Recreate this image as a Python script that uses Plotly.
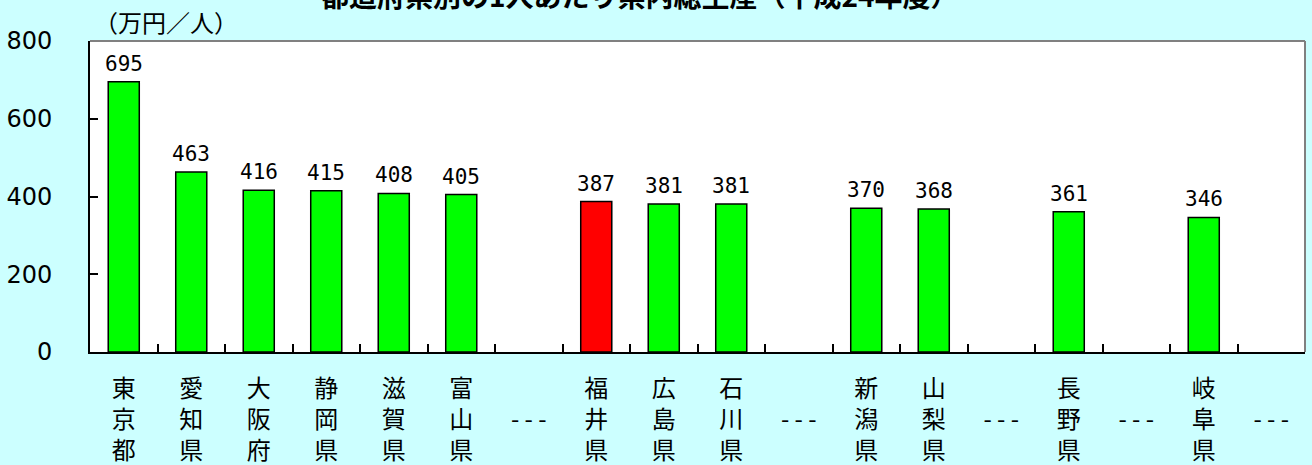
import plotly.graph_objects as go

categories = ["東京都", "愛知県", "大阪府", "静岡県", "滋賀県", "富山県", "---",
              "福井県", "広島県", "石川県", "---", "新潟県", "山梨県", "---",
              "長野県", "---", "岐阜県", "---"]
values = [695, 463, 416, 415, 408, 405, None, 387, 381, 381, None, 370, 368, None,
          361, None, 346, None]
highlight = "福井県"
title_text = "都道府県別の1人あたり県内総生産（平成24年度）"
unit_text = "（万円／人）"
y_ticks = [0, 200, 400, 600, 800]

xs = list(range(len(categories)))
colors = ["#FF0000" if c == highlight else "#00FF00" for c in categories]
ticktext = []
for c in categories:
    if c == "---":
        ticktext.append(" <br>- - -<br> ")
    else:
        ticktext.append("<br>".join(list(c)))

fig = go.Figure()
fig.add_trace(go.Bar(
    x=xs, y=values, width=0.46,
    marker=dict(color=colors, line=dict(color="black", width=1.5)),
    hoverinfo="x+y",
))

annotations = [
    dict(text="<b>" + title_text + "</b>", xref="paper", yref="paper",
         x=(640 - 90) / (1312 - 97), y=1, xanchor="center", yanchor="middle",
         yshift=46, showarrow=False,
         font=dict(family="Noto Sans CJK JP", size=28, color="black")),
    dict(text=unit_text, xref="paper", yref="paper", x=0, y=1,
         xanchor="left", yanchor="middle", xshift=2, yshift=20, showarrow=False,
         font=dict(family="Noto Sans CJK JP", size=24, color="black")),
]
for x, v in zip(xs, values):
    if v is None:
        continue
    annotations.append(dict(
        text=str(v), x=x, y=v, xref="x", yref="y", showarrow=False,
        yanchor="middle", yshift=18,
        font=dict(family="DejaVu Sans Mono", size=21, color="black")))

fig.update_layout(
    width=1312, height=465,
    margin=dict(l=90, r=7, t=41, b=113),
    paper_bgcolor="#CCFFFF", plot_bgcolor="white",
    showlegend=False,
    shapes=[
        dict(type="line", xref="paper", yref="paper", x0=0, x1=1, y0=1, y1=1,
             line=dict(color="#808080", width=2), layer="below"),
        dict(type="line", xref="paper", yref="paper", x0=1, x1=1, y0=0, y1=1,
             line=dict(color="#808080", width=2), layer="below"),
    ],
    annotations=annotations,
)

fig.update_xaxes(
    range=[-0.5, len(categories) - 0.5], automargin=False,
    tickmode="array", tickvals=xs, ticktext=ticktext,
    ticks="", showgrid=False, zeroline=False,
    showline=True, linecolor="black", linewidth=2,
    tickfont=dict(family="Noto Sans CJK JP", size=24, color="black"),
    ticklabelstandoff=14,
    minor=dict(tickmode="array", tickvals=[i + 0.5 for i in xs[:-1]],
               ticks="inside", ticklen=8, tickwidth=2, tickcolor="black"),
)
fig.update_yaxes(
    range=[0, 800], tickmode="array", tickvals=y_ticks, automargin=False,
    ticks="inside", ticklen=8, tickwidth=2, tickcolor="black",
    showgrid=False, zeroline=False,
    showline=True, linecolor="black", linewidth=2,
    tickfont=dict(family="DejaVu Sans", size=24, color="black"),
    ticklabelstandoff=31,
)

fig.write_html("out.html",
               config={"displayModeBar": False},
               post_script="document.body.style.margin='0px';document.body.style.overflow='hidden';")
